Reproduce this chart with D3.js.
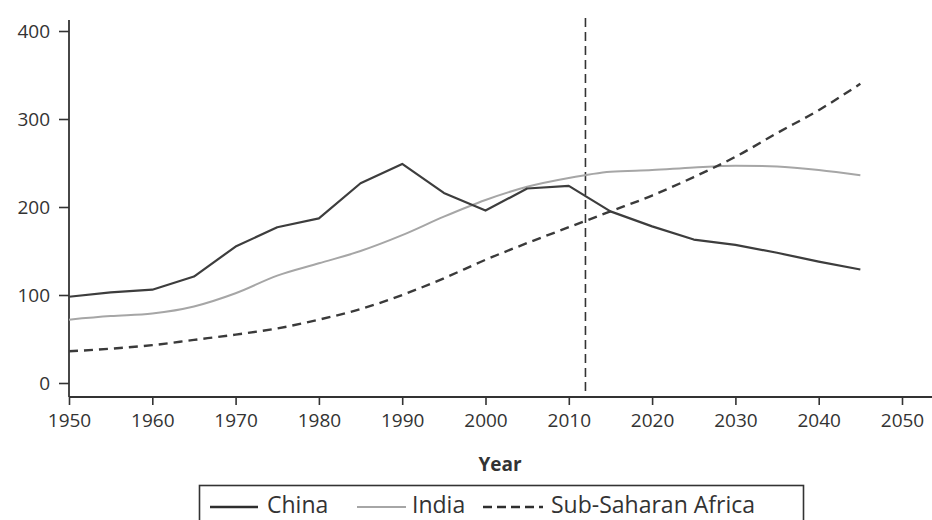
<!DOCTYPE html>
<html><head><meta charset="utf-8">
<script src="https://cdn.jsdelivr.net/npm/d3@7"></script>
<style>
html,body{margin:0;padding:0;background:#fff;}
svg{display:block;font-family:"Open Sans",sans-serif;}
</style></head>
<body>
<svg id="chart" width="932" height="520"></svg>
<script>
const years = [1950,1955,1960,1965,1970,1975,1980,1985,1990,1995,2000,2005,2010,2015,2020,2025,2030,2035,2040,2045];
const china = [98,103,106,121,155,177,187,227,249,216,196,221,224,195,178,163,157,148,138,129];
const india = [72,76,79,87,102,122,136,150,168,189,208,223,233,240,242,245,247,246,242,236];
const ssa   = [36,39,43,49,55,62,72,84,100,119,140,159,177,195,213,234,257,284,310,340];
const xTicks = [1950,1960,1970,1980,1990,2000,2010,2020,2030,2040,2050];
const yTicks = [0,100,200,300,400];
const markerYear = 2012;
const seriesNames = ["China","India","Sub-Saharan Africa"];

const svg = d3.select("#chart");
const x = d3.scaleLinear().domain([1950,2050]).range([69,902]);
const y = d3.scaleLinear().domain([0,400]).range([383,31]);
const axisY = 397;
const ink = "#333";

// axes
const gx = svg.append("g").attr("transform",`translate(0,${axisY})`)
  .call(d3.axisBottom(x).tickValues(xTicks).tickFormat(d3.format("d")).tickSize(8).tickPadding(9));
gx.select(".domain").remove();
const gy = svg.append("g").attr("transform",`translate(${x(1950)},0)`)
  .call(d3.axisLeft(y).tickValues(yTicks).tickSize(10).tickPadding(9));
gy.select(".domain").remove();
[gx,gy].forEach(g=>{
  g.selectAll("line").attr("stroke",ink).attr("stroke-width",1.6);
  g.selectAll("text").attr("fill",ink).style("font-size","19px").style("font-family","'Open Sans',sans-serif");
});
svg.append("line").attr("x1",x(1950)).attr("x2",932).attr("y1",axisY).attr("y2",axisY)
  .attr("stroke",ink).attr("stroke-width",1.8);
svg.append("line").attr("x1",x(1950)).attr("x2",x(1950)).attr("y1",20).attr("y2",axisY)
  .attr("stroke",ink).attr("stroke-width",1.8);

// marker line
svg.append("line").attr("x1",x(markerYear)).attr("x2",x(markerYear)).attr("y1",18).attr("y2",axisY)
  .attr("stroke",ink).attr("stroke-width",1.6).attr("stroke-dasharray","9,5");

const smooth = vals => d3.line().curve(d3.curveMonotoneX).x((d,i)=>x(years[i])).y(d=>y(d))(vals);
const straight = vals => d3.line().x((d,i)=>x(years[i])).y(d=>y(d))(vals);
svg.append("path").attr("d",smooth(india)).attr("fill","none").attr("stroke","#a6a6a6").attr("stroke-width",2);
svg.append("path").attr("d",smooth(ssa)).attr("fill","none").attr("stroke","#3a3a3a").attr("stroke-width",2.4).attr("stroke-dasharray","9,6");
svg.append("path").attr("d",straight(china)).attr("fill","none").attr("stroke","#3d3d3d").attr("stroke-width",2.2).attr("stroke-linejoin","round");

// axis title
svg.append("text").attr("x",500).attr("y",471).attr("text-anchor","middle")
  .attr("fill",ink).style("font-weight","bold").style("font-size","19px").text("Year");

// legend
const leg = svg.append("g");
leg.append("rect").attr("x",199.5).attr("y",485.5).attr("width",604).attr("height",50)
  .attr("fill","#fff").attr("stroke",ink).attr("stroke-width",1.6);
const legItems = [
  {name:seriesNames[0], x1:210, x2:258, tx:267, color:"#2e2e2e", w:2.6, dash:null},
  {name:seriesNames[1], x1:357, x2:406, tx:412, color:"#a6a6a6", w:2, dash:null},
  {name:seriesNames[2], x1:483, x2:543, tx:551, color:"#2e2e2e", w:2.6, dash:"9,5"}
];
legItems.forEach(d=>{
  leg.append("line").attr("x1",d.x1).attr("x2",d.x2).attr("y1",507).attr("y2",507)
    .attr("stroke",d.color).attr("stroke-width",d.w).attr("stroke-dasharray",d.dash);
  leg.append("text").attr("x",d.tx).attr("y",513).attr("fill",ink)
    .style("font-size","23px").text(d.name);
});
</script>
</body></html>
